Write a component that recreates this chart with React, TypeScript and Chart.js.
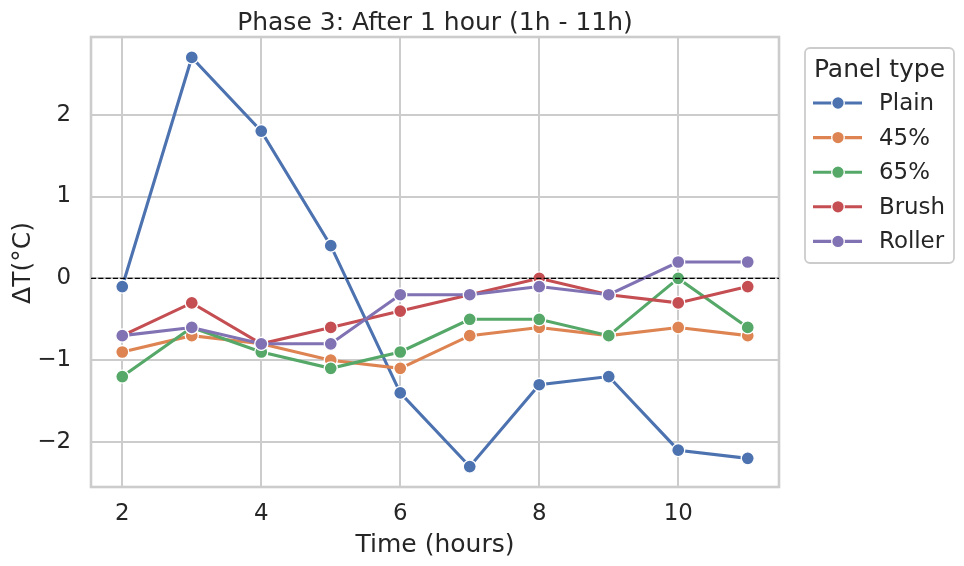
import React, { useEffect, useRef } from "react";
import { Chart, registerables } from "chart.js";

Chart.register(...registerables);

const hours = [2, 3, 4, 5, 6, 7, 8, 9, 10, 11];
const seriesNames = ["Plain", "45%", "65%", "Brush", "Roller"];
const plain = [-0.1, 2.7, 1.8, 0.4, -1.4, -2.3, -1.3, -1.2, -2.1, -2.2];
const pct45 = [-0.9, -0.7, -0.8, -1.0, -1.1, -0.7, -0.6, -0.7, -0.6, -0.7];
const pct65 = [-1.2, -0.6, -0.9, -1.1, -0.9, -0.5, -0.5, -0.7, 0.0, -0.6];
const brush = [-0.7, -0.3, -0.8, -0.6, -0.4, -0.2, 0.0, -0.2, -0.3, -0.1];
const roller = [-0.7, -0.6, -0.8, -0.8, -0.2, -0.2, -0.1, -0.2, 0.2, 0.2];
const xTicks = [2, 4, 6, 8, 10];
const yTicks = [-2, -1, 0, 1, 2];
const colors = ["#4C72B0", "#DD8452", "#55A868", "#C44E52", "#8172B3"];

const FONT = "'DejaVu Sans', sans-serif";
const TEXT = "#262626";

export default function App() {
  const ref = useRef<HTMLCanvasElement | null>(null);

  useEffect(() => {
    const canvas = ref.current;
    if (!canvas) return;
    const all = [plain, pct45, pct65, brush, roller];

    const decorPlugin = {
      id: "decor",
      beforeDatasetsDraw(chart: any) {
        const { ctx, chartArea: a } = chart;
        ctx.save();
        ctx.strokeStyle = "#cccccc";
        ctx.lineWidth = 2.6;
        ctx.strokeRect(a.left, a.top, a.right - a.left, a.bottom - a.top);
        ctx.restore();
      },
      afterDatasetsDraw(chart: any) {
        const { ctx, chartArea: a, scales } = chart;
        const y0 = scales.y.getPixelForValue(0);
        ctx.save();
        ctx.strokeStyle = "#000000";
        ctx.lineWidth = 1.4;
        ctx.setLineDash([5.1, 2.2]);
        ctx.beginPath();
        ctx.moveTo(a.left, y0);
        ctx.lineTo(a.right, y0);
        ctx.stroke();
        ctx.restore();
      },
      afterDraw(chart: any) {
        const { ctx, chartArea: a } = chart;
        const cx = (a.left + a.right) / 2;
        ctx.save();
        ctx.fillStyle = TEXT;
        ctx.textAlign = "center";
        ctx.textBaseline = "alphabetic";
        ctx.font = `25px ${FONT}`;
        ctx.fillText("Phase 3: After 1 hour (1h - 11h)", cx, 30);
        ctx.fillText("Time (hours)", cx, 552);
        ctx.save();
        ctx.translate(29.5, (a.top + a.bottom) / 2 + 1);
        ctx.rotate(-Math.PI / 2);
        ctx.fillText("ΔT(°C)", 0, 0);
        ctx.restore();

        // legend
        const lx = 805, ly = 48, lw = 149, lh = 215;
        ctx.beginPath();
        ctx.roundRect(lx, ly, lw, lh, 5);
        ctx.fillStyle = "rgba(255,255,255,0.8)";
        ctx.fill();
        ctx.strokeStyle = "#cccccc";
        ctx.lineWidth = 1.8;
        ctx.stroke();
        ctx.fillStyle = TEXT;
        ctx.font = `25px ${FONT}`;
        ctx.textAlign = "center";
        ctx.fillText("Panel type", lx + lw / 2, 77);
        ctx.font = `22.9px ${FONT}`;
        ctx.textAlign = "left";
        ctx.textBaseline = "middle";
        seriesNames.forEach((name, i) => {
          const yy = 103 + i * 34.6;
          ctx.strokeStyle = colors[i];
          ctx.lineWidth = 3.1;
          ctx.beginPath();
          ctx.moveTo(813, yy);
          ctx.lineTo(862, yy);
          ctx.stroke();
          ctx.beginPath();
          ctx.arc(838, yy, 6.3, 0, Math.PI * 2);
          ctx.fillStyle = colors[i];
          ctx.fill();
          ctx.strokeStyle = "#ffffff";
          ctx.lineWidth = 1.3;
          ctx.stroke();
          ctx.fillStyle = TEXT;
          ctx.fillText(name, 879, yy + 1);
        });
        ctx.restore();
      },
    };

    const chart = new Chart(canvas, {
      type: "line",
      data: {
        datasets: seriesNames.map((name, i) => ({
          label: name,
          data: hours.map((h, j) => ({ x: h, y: all[i][j] })),
          borderColor: colors[i],
          backgroundColor: colors[i],
          borderWidth: 3.1,
          pointRadius: 6.5,
          pointBorderColor: "#ffffff",
          pointBorderWidth: 1.3,
          pointBackgroundColor: colors[i],
          tension: 0,
          fill: false,
          order: seriesNames.length - 1 - i,
        })),
      },
      options: {
        responsive: false,
        animation: false,
        devicePixelRatio: 1,
        layout: { padding: { left: 0, top: 37, right: 185, bottom: 0 } },
        plugins: {
          legend: { display: false },
          title: { display: false },
          tooltip: { enabled: false },
        },
        scales: {
          x: {
            type: "linear",
            min: 1.55,
            max: 11.45,
            afterFit: (s: any) => {
              s.height = 79;
            },
            afterBuildTicks: (s: any) => {
              s.ticks = xTicks.map((v) => ({ value: v }));
            },
            ticks: {
              color: TEXT,
              font: { family: FONT, size: 22.9 },
              padding: 13,
              maxRotation: 0,
              autoSkip: false,
            },
            grid: { color: "#cccccc", lineWidth: 2, drawTicks: false },
            border: { display: false },
          },
          y: {
            type: "linear",
            min: -2.55,
            max: 2.95,
            afterFit: (s: any) => {
              s.width = 91;
            },
            afterBuildTicks: (s: any) => {
              s.ticks = yTicks.map((v) => ({ value: v }));
            },
            ticks: {
              color: TEXT,
              font: { family: FONT, size: 22.9 },
              padding: 20,
              autoSkip: false,
              callback: (v: any) => (Number(v) < 0 ? "\u2212" + Math.abs(Number(v)) : String(v)),
            },
            grid: { color: "#cccccc", lineWidth: 2, drawTicks: false },
            border: { display: false },
          },
        },
      },
      plugins: [decorPlugin],
    });
    return () => chart.destroy();
  }, []);

  return (
    <div style={{ position: "fixed", left: 0, top: 0, width: 964, height: 566, background: "#fff" }}>
      <canvas ref={ref} width={964} height={566} style={{ display: "block" }} />
    </div>
  );
}
